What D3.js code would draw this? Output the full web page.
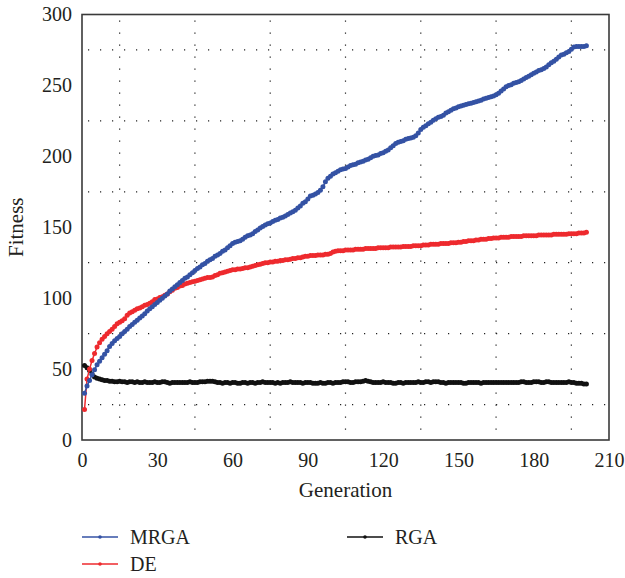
<!DOCTYPE html>
<html>
<head>
<meta charset="utf-8">
<script src="https://cdn.jsdelivr.net/npm/d3@7"></script>
<style>
  body { margin: 0; background: #fff; }
  svg text { font-family: "Liberation Serif", "Times New Roman", Tinos, "DejaVu Serif", serif; fill: #231f20; }
</style>
</head>
<body>
<div id="chart"></div>
<script>
// fitness per generation (generation 1..201)
var mrga = [
  33, 38, 42, 46, 49.5, 53, 55.5, 58, 60.5, 63,
  66, 68, 70, 71.5, 73, 75, 76.5, 78, 80, 81.5,
  83, 84.5, 86, 87.5, 89, 91, 92.5, 94, 95.5, 97,
  98.5, 100, 101.5, 103, 105, 106.5, 108, 109.5, 111, 112.5,
  114, 115, 116.5, 118, 119.5, 121, 122, 123.5, 124.5, 126,
  127, 128, 129.5, 130.5, 131.5, 133, 134, 135.5, 137, 138.5,
  139.5, 140, 140.5, 141.5, 143, 144, 144.5, 145.5, 147, 148,
  149.5, 150.5, 151.5, 152.5, 153, 154, 155, 155.5, 156.5, 157,
  158, 159, 160, 161, 162, 163.5, 165, 167, 168, 170,
  172, 172.5, 173.5, 174.5, 176, 178.5, 182, 184.5, 186, 187.5,
  188.5, 189.5, 190.5, 191, 191.5, 192.5, 193.5, 194, 194.5, 195.5,
  196, 196.5, 197.5, 198, 199, 200, 200.5, 201, 202, 202.5,
  203.5, 204.5, 206, 207.5, 209, 210, 210.5, 211, 212, 212.5,
  213, 213.5, 214.5, 216.5, 219, 220.5, 221.5, 223, 224, 225.5,
  226.5, 227.5, 228, 229, 230.5, 231.5, 232.5, 233.5, 234, 235,
  235.5, 236, 236.5, 237, 237.5, 238, 238.5, 239, 239.5, 240.5,
  241, 241.5, 242, 242.5, 243.5, 244.5, 246, 247.5, 249, 250,
  250.5, 251.5, 252, 252.5, 253.5, 254.5, 255.5, 256.5, 257.5, 258.5,
  259.5, 260.5, 261, 262, 263, 264.5, 266, 267, 268.5, 270,
  271.5, 272, 273, 274, 275.5, 277, 277.5, 277.5, 277.5, 277.5,
  278
];
var de = [
  21.5, 43, 50, 56, 61, 65.5, 68.5, 71, 73, 75,
  76.5, 78, 80, 82, 83, 84, 85.5, 88, 89.5, 90.5,
  91.5, 92.5, 93, 94, 95, 95.5, 96.5, 97.5, 99, 99.5,
  100.5, 101, 102, 103, 104.5, 105.5, 107, 107.5, 108.5, 109,
  110, 110.5, 111, 111.5, 112, 112.5, 113, 113.5, 114, 114.5,
  114.5, 115, 116, 116.5, 117.5, 118, 118.5, 119, 119.5, 120,
  120, 120.5, 120.5, 121, 121.5, 121.5, 122, 122.5, 123, 123.5,
  124, 124.5, 125, 125, 125.5, 125.5, 126, 126, 126.5, 126.5,
  127, 127, 127.5, 128, 128, 128.5, 128.5, 129, 129.5, 129.5,
  130, 130, 130, 130.5, 130.5, 130.5, 131, 131, 131.5, 132.5,
  133, 133.5, 133.5, 133.5, 134, 134, 134, 134, 134.5, 134.5,
  134.5, 134.5, 135, 135, 135, 135, 135, 135.5, 135.5, 135.5,
  135.5, 135.5, 136, 136, 136, 136, 136, 136.5, 136.5, 136.5,
  136.5, 137, 137, 137, 137, 137.5, 137.5, 137.5, 138, 138,
  138, 138, 138.5, 138.5, 138.5, 138.5, 139, 139, 139, 139.5,
  139.5, 140, 140, 140.5, 140.5, 140.5, 141, 141, 141.5, 141.5,
  141.5, 142, 142, 142.5, 142.5, 142.5, 143, 143, 143, 143,
  143.5, 143.5, 143.5, 143.5, 143.5, 144, 144, 144, 144, 144,
  144, 144.5, 144.5, 144.5, 144.5, 144.5, 144.5, 145, 145, 145,
  145, 145, 145, 145.5, 145.5, 145.5, 145.5, 146, 146, 146,
  146.5
];
var rga = [
  52.5, 51, 49, 46.5, 44.5, 43.5, 43, 42.5, 42, 42,
  41.5, 41.5, 41, 41, 41.5, 41, 41, 40.5, 41, 41,
  40.5, 41, 40.5, 40.5, 41, 40.5, 40.5, 40.5, 41, 40.5,
  40.5, 41, 41, 40.5, 40, 40.5, 40.5, 40.5, 40.5, 40.5,
  40.5, 40.5, 41, 40.5, 40.5, 40.5, 41, 41, 41, 41.5,
  41.5, 41.5, 41, 40.5, 40.5, 40, 40.5, 40.5, 40, 40.5,
  40.5, 40, 40, 40.5, 40.5, 40, 40.5, 40.5, 40, 40.5,
  40.5, 41, 40.5, 40.5, 40.5, 40.5, 40, 40.5, 40, 40.5,
  40.5, 40.5, 41, 40.5, 40.5, 40.5, 40.5, 40, 40.5, 40.5,
  40.5, 40, 40, 40, 40.5, 40, 40, 40.5, 40.5, 40,
  40.5, 40.5, 40.5, 41, 41, 41, 40.5, 40.5, 41, 41,
  41, 41.5, 42, 41.5, 41, 40.5, 40.5, 40.5, 40.5, 41,
  40.5, 40.5, 40.5, 40, 40, 40.5, 40.5, 40, 40.5, 40.5,
  40.5, 40.5, 40.5, 41, 40.5, 40.5, 41, 41, 40.5, 41,
  41, 41, 40.5, 40.5, 40, 40.5, 40.5, 40.5, 40.5, 40.5,
  40.5, 40, 40, 40.5, 40.5, 40.5, 40.5, 40.5, 40, 40.5,
  40.5, 40.5, 40.5, 40.5, 40.5, 40.5, 40.5, 40.5, 40.5, 40.5,
  40.5, 40.5, 40.5, 40.5, 41, 41, 40.5, 40.5, 40.5, 41,
  41, 41, 40.5, 40.5, 41, 41, 40.5, 40.5, 40.5, 40.5,
  40.5, 40.5, 40.5, 41, 40.5, 40.5, 40, 40, 40, 39.5,
  39.5
];
var firstGeneration = 1;

var xTicks = [0, 30, 60, 90, 120, 150, 180, 210];
var yTicks = [0, 50, 100, 150, 200, 250, 300];
var xGrid = [15, 45, 75, 105, 135, 165, 195];
var yGrid = [25, 75, 125, 175, 225, 275];

var seriesNames = ["MRGA", "DE", "RGA"];
var seriesColors = ["#3452a4", "#ee2a2e", "#111111"];

var width = 625, height = 578;
var margin = { left: 82, right: 16, top: 14.5, bottom: 138 };
var serif = "'Liberation Serif', 'Times New Roman', Tinos, 'DejaVu Serif', serif";

var svg = d3.select("#chart").append("svg")
    .attr("width", width)
    .attr("height", height);

var x = d3.scaleLinear().domain([0, 210]).range([margin.left, width - margin.right]);
var y = d3.scaleLinear().domain([0, 300]).range([height - margin.bottom, margin.top]);

// dotted grid, placed between the labelled ticks
svg.append("g").selectAll("line")
    .data(xGrid)
    .enter().append("line")
    .attr("x1", function(d) { return x(d); })
    .attr("x2", function(d) { return x(d); })
    .attr("y1", y(300))
    .attr("y2", y(0))
    .attr("stroke", "#222")
    .attr("stroke-width", 1.2)
    .attr("stroke-dasharray", "1.2,10.8")
    .attr("stroke-dashoffset", -6);

svg.append("g").selectAll("line")
    .data(yGrid)
    .enter().append("line")
    .attr("x1", x(0))
    .attr("x2", x(210))
    .attr("y1", function(d) { return y(d); })
    .attr("y2", function(d) { return y(d); })
    .attr("stroke", "#222")
    .attr("stroke-width", 1.2)
    .attr("stroke-dasharray", "1.2,10.8")
    .attr("stroke-dashoffset", -6);

// frame
svg.append("rect")
    .attr("x", x(0))
    .attr("y", y(300))
    .attr("width", x(210) - x(0))
    .attr("height", y(0) - y(300))
    .attr("fill", "none")
    .attr("stroke", "#3a3a3a")
    .attr("stroke-width", 1.6);

// axes (labels only, no tick marks)
var xAxis = svg.append("g")
    .attr("transform", "translate(0," + y(0) + ")")
    .call(d3.axisBottom(x).tickValues(xTicks).tickSize(0).tickPadding(13));
var yAxis = svg.append("g")
    .attr("transform", "translate(" + x(0) + ",0)")
    .call(d3.axisLeft(y).tickValues(yTicks).tickSize(0).tickPadding(10));
[xAxis, yAxis].forEach(function(g) {
    g.attr("font-family", null).attr("font-size", null);
    g.select(".domain").remove();
    g.selectAll("text")
        .style("font-family", serif)
        .style("font-size", "20px")
        .attr("fill", "#231f20");
});

svg.append("text")
    .attr("x", (x(0) + x(210)) / 2)
    .attr("y", 497)
    .attr("text-anchor", "middle")
    .style("font-family", serif)
    .style("font-size", "21px")
    .text("Generation");

svg.append("text")
    .attr("transform", "translate(23," + (y(0) + y(300)) / 2 + ") rotate(-90)")
    .attr("text-anchor", "middle")
    .style("font-family", serif)
    .style("font-size", "21px")
    .text("Fitness");

// series
var allSeries = [mrga, de, rga];
var line = d3.line()
    .x(function(d, i) { return x(firstGeneration + i); })
    .y(function(d) { return y(d); });

// draw RGA first so that the coloured series sit on top
[2, 1, 0].forEach(function(k) {
    var g = svg.append("g");
    g.append("path")
        .datum(allSeries[k])
        .attr("d", line)
        .attr("fill", "none")
        .attr("stroke", seriesColors[k])
        .attr("stroke-width", 1.5);
    g.selectAll("circle")
        .data(allSeries[k])
        .enter().append("circle")
        .attr("cx", function(d, i) { return x(firstGeneration + i); })
        .attr("cy", function(d) { return y(d); })
        .attr("r", 2.5)
        .attr("fill", seriesColors[k]);
});

// legend
var legendPos = [[82, 537], [82, 564], [347, 537]];
seriesNames.forEach(function(name, k) {
    var lx = legendPos[k][0], ly = legendPos[k][1];
    var g = svg.append("g").attr("class", "legend");
    g.append("line")
        .attr("x1", lx).attr("x2", lx + 36)
        .attr("y1", ly).attr("y2", ly)
        .attr("stroke", seriesColors[k])
        .attr("stroke-width", 1.4);
    g.append("circle")
        .attr("cx", lx + 18).attr("cy", ly)
        .attr("r", 1.8)
        .attr("fill", seriesColors[k]);
    g.append("text")
        .attr("x", lx + 48)
        .attr("y", ly)
        .attr("dy", "0.35em")
        .style("font-family", serif)
        .style("font-size", "20px")
        .text(name);
});
</script>
</body>
</html>
